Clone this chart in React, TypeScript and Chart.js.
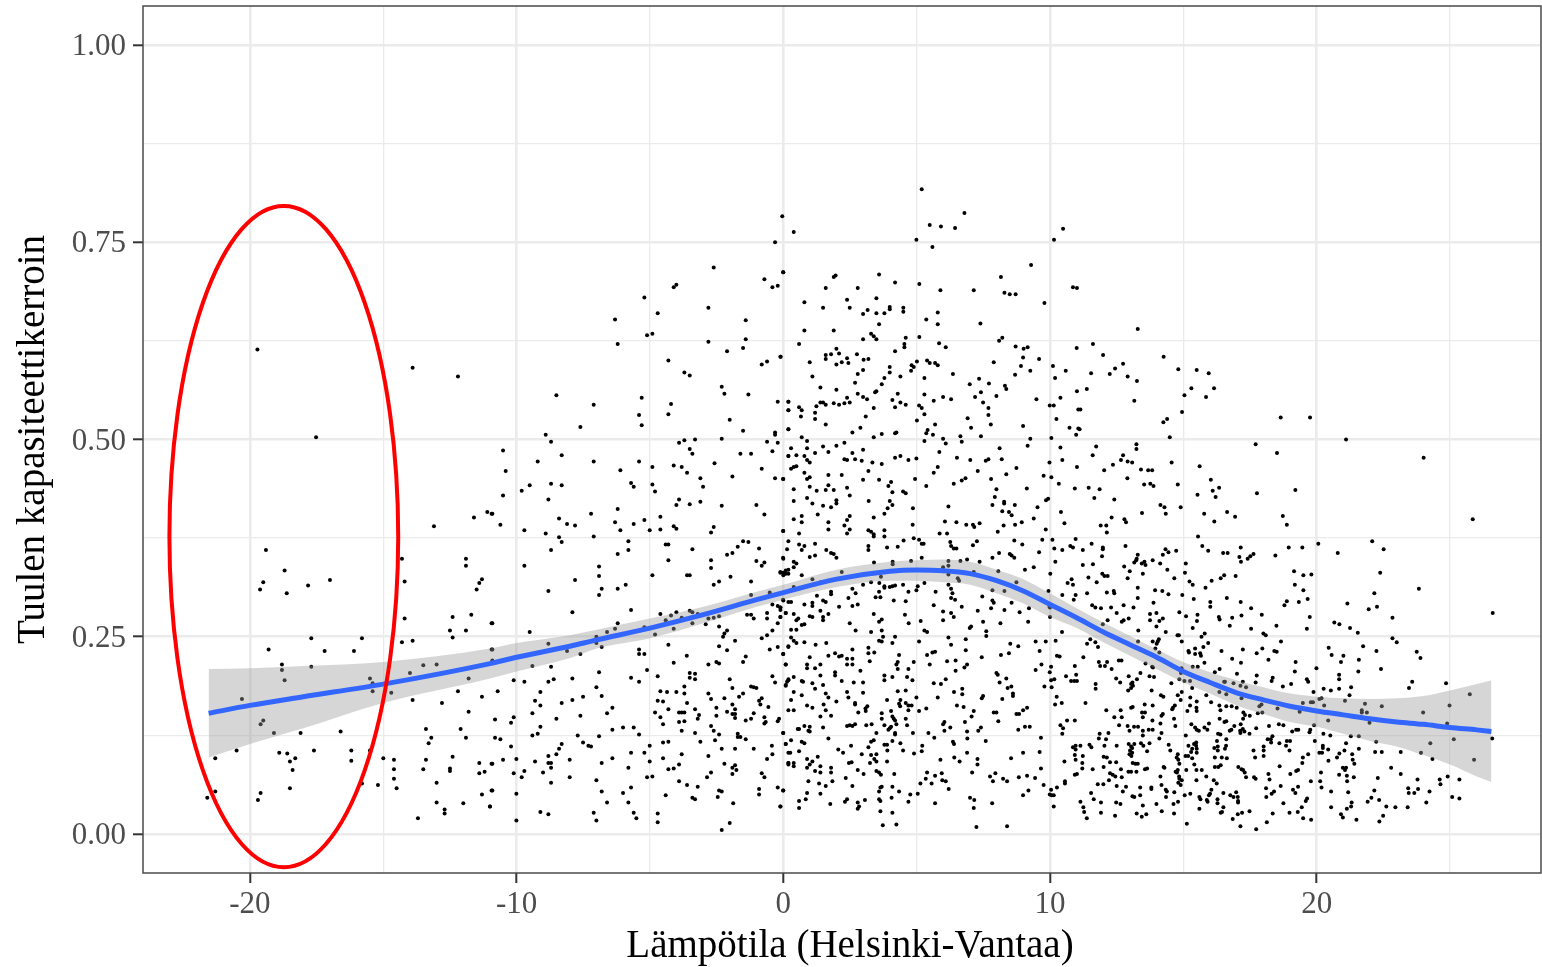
import React, { useEffect, useRef } from "react";
import { Chart, registerables } from "chart.js";

Chart.register(...registerables);

// Scatter values, as temperature, capacity factor pairs.
const coldDays: number[] = [
-19.72,.614,-13.9,.591,-12.2,.58,-17.52,.503,-19.4,.36,-18.7,.334,-19.5,.319,-19.62,.31,-18.62,.305,-17.82,.315,-17,.322,-14.3,.349,-14.2,.32,-11.9,.349,-11.9,.34,-11.3,.323,-11.4,.318,-11.5,.31,-13.1,.39,-11.6,.401,-11.1,.408,-10.94,.406,-14.2,.273,-12.4,.275,-11.7,.278,-10.94,.267,-12.5,.258,-11.9,.258,-12.4,.249,-14.3,.243,-13.9,.245,-15.8,.248,-17.7,.248,-19.3,.234,-17.2,.232,-16.1,.232,-10.94,.234,-18.8,.215,-18.8,.208,-17.7,.212,-18.7,.195,-13.5,.214,-13,.215,-14,.204,-11.8,.197,-15.5,.197,-15.4,.191,-15.4,.181,-14.7,.179,-20.3,.171,-13.9,.17,-12.2,.181,-11.3,.174,-12.8,.166,-11.8,.155,-19.5,.144,-19.6,.139,-19.1,.128,-18.1,.128,-16.6,.13,-13.4,.133,-12.1,.133,-13.2,.122,-11.9,.122,-13.3,.115,-20.5,.106,-21.3,.096,-18.9,.103,-18.6,.102,-18.3,.096,-18.5,.092,-18.4,.081,-17.6,.106,-16.2,.106,-16.2,.093,-15.5,.106,-15,.096,-14.6,.094,-14.6,.082,-14.6,.07,-14.5,.058,-13.4,.094,-13.5,.082,-12.4,.098,-12.5,.083,-12.5,.08,-11.4,.09,-10.94,.089,-11.4,.077,-11.2,.079,-13,.065,-11.3,.05,-10.94,.055,-21.3,.054,-21.6,.046,-19.6,.052,-19.7,.043,-18.5,.058,-15.8,.064,-15.2,.062,-13,.04,-12.7,.031,-12.7,.026,-12,.039,-11,.035,-13.7,.02,
];

const coolUpper: number[] = [
-.31,.75,-2.61,.718,0,.712,-.71,.703,-.41,.693,-.21,.695,-4.01,.696,-4.11,.693,-5.21,.68,-2.81,.667,-4.71,.66,-6.31,.652,-1.41,.651,-4.91,.634,-5.11,.632,-6.21,.621,-2.81,.624,-1.41,.627,-1.51,.616,-2.11,.612,-4.31,.6,-.11,.605,-.61,.599,-.81,.595,-3.71,.585,-3.51,.581,-2.31,.567,-2.21,.558,-1.31,.557,-8.51,.556,-5.31,.553,-7.11,.544,-4.21,.545,-.21,.548,.19,.548,.19,.537,-5.41,.531,-4.31,.532,-2.01,.525,-5.31,.518,-7.61,.516,.19,.513,-1.51,.511,-.31,.509,-.31,.506,-8.91,.506,-8.71,.497,-2.31,.501,-3.31,.5,-3.71,.499,-3.91,.496,-.61,.497,-.21,.496,-3.51,.488,-3.41,.482,-10.51,.486,-8.31,.48,-1.61,.482,-1.21,.482,-.41,.485,.19,.479,-9.21,.472,-7.11,.472,-5.41,.472,-4.11,.467,-3.81,.465,-4.91,.465,-2.58,.47,-.81,.463,-6.11,.461,-10.41,.46,-3.61,.458,-1.91,.453,-3.11,.451,-.31,.451,0,.45,-5.71,.445,-5.61,.44,-4.91,.443,-3.01,.44,-8.71,.444,-8.31,.442,-9.51,.442,-9.81,.435,-4.81,.434,-10.51,.429,-8.81,.424,-3.91,.424,-4.01,.417,-3.51,.418,-3.11,.421,-2.31,.416,-1.01,.417,-6.21,.412,-7.21,.406,-.71,.405,-10.91,.406,-8.41,.4,-4.61,.402,-5.21,.398,-6.31,.395,-8.11,.393,-7.81,.391,-5.61,.393,-10.61,.392,-4.11,.39,-4.01,.387,-2.61,.389,-9.71,.385,-6.11,.385,-5.01,.385,-4.61,.386,-2.71,.382,0,.384,-8.91,.381,-7.11,.377,-8.41,.376,
];

const coolLower: number[] = [
-8.31,.37,-5.81,.371,-1.51,.371,-1.31,.37,-1.71,.364,-4.41,.367,-4.31,.367,-5.81,.36,-8.71,.36,-6.21,.355,-3.41,.361,-2.11,.354,-1.91,.356,-.91,.362,.14,.361,0,.349,-4.31,.347,-2.71,.347,-1.01,.346,-.71,.344,-.81,.34,-9.71,.34,-6.91,.339,-2.71,.337,-.11,.332,.09,.334,0,.328,.19,.33,-6.91,.327,-4.91,.328,-3.61,.328,-3.51,.328,-1.98,.326,-7.81,.322,-2.41,.32,-2.61,.316,-1.21,.32,-5.91,.316,-6.81,.311,-6.21,.311,-8.81,.308,-6.91,.303,-1.21,.303,-.51,.306,0,.296,-.41,.291,-.21,.289,-.11,.287,.09,.28,-5.71,.284,-7.91,.281,-4.61,.279,-4.21,.277,-4.01,.281,-3.51,.283,-3.41,.281,-3.21,.279,-.61,.28,-1.36,.278,-1.21,.278,-2.41,.276,-2.61,.274,-2.81,.273,-3.81,.274,-4.41,.271,-3.41,.267,-2.91,.266,-1.11,.273,-.61,.273,-.11,.275,-.21,.267,-6.21,.267,-10.91,.267,-6.31,.26,-5.21,.262,-2.41,.263,-4.11,.26,-6.61,.256,-9.51,.256,-2.11,.258,-2.21,.254,-2.26,.25,-.41,.258,-.61,.252,-.81,.248,-4.81,.253,-7.01,.25,-7.01,.242,-8.81,.241,-1.81,.245,-4.31,.24,-6.81,.237,-2.41,.238,-.21,.237,.19,.237,-.51,.234,-2.11,.233,-8.11,.232,-5.41,.234,-5.41,.228,-5.21,.228,-10.91,.234,-10.91,.22,-7.61,.228,0,.228,-3.62,.226,-1.41,.225,-4.11,.217,-1.51,.218,-2.81,.215,-2.51,.218,-2.41,.216,.09,.215,-9.41,.213,-8.71,.212,-5.11,.208,-6.91,.205,-3.51,.204,-3.31,.203,-3.51,.198,-3.31,.196,-4.71,.2,-7.91,.197,-5.71,.198,-.41,.2,-10.11,.195,-9.71,.193,-8.81,.193,-8.61,.196,-5.41,.193,-2.01,.196,-.31,.192,.19,.195,.09,.188,-3.71,.187,-7.01,.186,-1.91,.185,-1.21,.187,-1.11,.186,-1.01,.185,-4.61,.181,-10.71,.181,-9.11,.18,-4.36,.18,-4.01,.18,-3.71,.178,-2.81,.178,-1.51,.178,-1.66,.174,-6.81,.175,-7.51,.174,-7.91,.17,-2.21,.172,-2.71,.171,-.81,.172,-.91,.169,-4.71,.169,-4.51,.168,-9.31,.169,-8.31,.166,-3.61,.166,-9.11,.163,-1.91,.164,-.86,.164,-6.41,.16,-4.31,.158,-3.31,.158,-2.51,.16,-1.81,.158,-.56,.161,-9.41,.153,-7.61,.15,-6.61,.153,-4.81,.154,-3.91,.154,-3.81,.154,-3.71,.154,-2.11,.155,-1.91,.152,-1.81,.152,-1.11,.153,-2.51,.15,-10.11,.148,-4.61,.148,-3.16,.151,-3.21,.146,-1.81,.147,-1.21,.146,-.71,.148,-1.41,.144,-.16,.146,-.21,.143,-10.81,.145,-8.51,.146,-10.21,.141,-4.51,.139,-3.91,.142,-3.71,.143,-.66,.142,-.71,.14,-9.11,.136,-2.71,.137,-6.41,.132,-6.01,.135,-5.61,.135,-3.81,.131,-2.61,.131,0,.128,-3.31,.128,-2.41,.126,-9.41,.125,-9.21,.127,-7.71,.125,-5.41,.126,-1.71,.127,-1.61,.123,-1.71,.123,-6.91,.124,-1.41,.12,-10.81,.122,-10.61,.12,-4.51,.116,-4.31,.117,-3.11,.117,-2.56,.119,-8.31,.114,-7.51,.116,-7.31,.112,-7.21,.111,.09,.114,-5.01,.112,-10.21,.111,-8.41,.108,-2.31,.108,-1.81,.108,-1.11,.108,-.43,.112,-5.71,.103,-5.21,.103,-8.51,.101,-3.81,.101,-.41,.101,.19,.103,-8.81,.099,-2.81,.099,-4.51,.096,-6.41,.096,-10.51,.094,-10.01,.095,-8.01,.094,-9.31,.092,-5.01,.092,-.61,.095,-8.81,.09,-8.71,.09,-6.81,.09,-10.91,.089,.19,.09,-2.21,.089,-3.91,.088,-8.71,.084,-5.81,.084,-1.81,.087,-1.91,.084,-4.31,.082,-4.11,.083,-1.76,.081,-9.71,.08,-9.01,.078,-2.71,.078,-10.11,.077,-1.91,.076,-.81,.077,-9.81,.072,-8.01,.072,-5.11,.072,-4.91,.073,-2.86,.072,-.71,.072,-7.01,.068,-8.71,.065,-3.91,.067,-3.61,.062,-3.21,.06,-5.71,.059,-.91,.057,-.21,.059,0,.055,-10.91,.055,-6.81,.054,-2.41,.055,-2.31,.054,-6.01,.052,-10.01,.051,-.91,.05,-4.41,.049,-2.46,.047,-3.41,.046,-3.31,.044,-6.61,.04,-5.81,.04,-1.88,.039,-11,.035,-.11,.035,-9.11,.028,-8.81,.025,-7.11,.027,-5.61,.027,-4.71,.026,-5.51,.02,-7.01,.017,-10.01,.017,-4.71,.015,-2.01,.014,-2.31,.005,
];

const mildUpper: number[] = [
5.19,.817,-.04,.783,.39,.763,5.49,.772,5.91,.77,6.44,.768,6.79,.787,10.49,.767,10.15,.753,4.99,.753,5.59,.744,9.29,.721,-.01,.712,1.96,.708,1.89,.706,3.59,.709,8.16,.706,4.19,.699,5.1,.697,1.59,.692,2.79,.692,5.89,.689,7.14,.689,10.86,.693,11.01,.692,8.29,.686,8.49,.684,8.71,.684,3.49,.679,2.39,.677,.79,.674,9.79,.673,2.49,.667,1.49,.667,3.99,.668,3.99,.665,4.5,.667,4.5,.662,3.16,.664,2.99,.659,3.49,.66,3.79,.66,5.79,.661,5.36,.652,3.59,.646,5.79,.646,7.39,.647,.79,.638,1.89,.638,3.29,.634,3.39,.631,3.49,.627,2.99,.627,4.59,.629,5.1,.63,8.21,.629,8.09,.625,4.54,.621,4.54,.617,5.84,.622,.59,.621,6.09,.617,8.71,.618,9.01,.615,9.16,.617,11,.616,1.99,.615,4.19,.612,-.1,.605,1.79,.608,2.09,.609,1.59,.607,1.59,.602,2.76,.608,2.39,.603,3.01,.601,3.19,.602,8.99,.604,9.59,.602,.99,.598,2.19,.598,2.44,.597,1.99,.595,5.01,.599,5.39,.6,5.49,.597,5.69,.597,5.79,.594,7.89,.598,3.99,.592,4.81,.594,4.89,.592,4.79,.587,2.99,.588,8.91,.593,10.11,.593,10.59,.587,9.26,.587,3.99,.585,2.79,.583,4.39,.58,3.79,.578,1.09,.58,5.29,.578,6.36,.583,8.69,.582,7.34,.577,10.19,.578,2.69,.572,3.69,.57,6.99,.57,7.71,.571,8.31,.568,8.36,.564,1.39,.566,1.99,.563,3.44,.56,3.49,.561,2.79,.558,4.29,.558,5.29,.557,7.41,.56,11.01,.561,2.99,.554,3.14,.551,7.19,.554,7.99,.555,2.39,.553,9.49,.551,10.39,.553,.19,.548,1.39,.547,1.49,.547,1.59,.544,1.89,.546,2.09,.544,2.29,.546,2.49,.547,4.09,.55,4.39,.547,4.59,.544,5.64,.549,5.99,.554,6.29,.551,7.49,.547,4.19,.541,5.09,.543,5.19,.54,.59,.541,.69,.537,.19,.537,1.24,.542,1.19,.534,3.39,.54,7.69,.54,9.99,.543,10.14,.543,11.06,.538,5.29,.532,7.69,.531,.66,.529,1.19,.526,3.09,.529,6.91,.527,10.24,.526,5.01,.524,1.59,.519,5.69,.519,7.78,.519,.19,.513,2.89,.515,8.99,.517,7.04,.515,10.73,.515,5.41,.512,5.36,.508,2.59,.509,11.06,.514,4.24,.509,4.19,.508,3.69,.507,5.61,.506,10.98,.506,3.39,.503,.69,.503,6.64,.504,7.41,.504,5.99,.501,.89,.498,9.26,.501,10.05,.502,5.29,.498,6.69,.497,2.29,.496,6.09,.495,1.99,.492,9.16,.492,1.49,.491,.29,.489,.89,.489,8.11,.489,10.39,.49,2.99,.487,1.69,.484,1.19,.483,2.59,.483,5.85,.484,.19,.479,.49,.48,.79,.479,4.39,.479,4.19,.477,4.99,.476,6.51,.477,.89,.474,2.29,.475,2.39,.474,2.69,.475,2.94,.473,4.69,.474,7.01,.474,7.69,.475,7.59,.473,8.19,.475,10.46,.474,.99,.471,3.34,.471,3.69,.469,9.98,.471,.49,.466,.39,.465,.29,.463,5.79,.465,8.74,.464,11.01,.465,.79,.458,3.19,.46,5.64,.458,7.29,.46,1.69,.455,2.19,.455,8.36,.456,9.76,.454,.99,.452,.89,.45,-.01,.45,2.99,.449,3.59,.449,4.94,.45,6.83,.451,7.79,.45,10.05,.452,6.69,.448,4.04,.446,6.39,.444,10.33,.444,1.69,.442,.99,.44,3.94,.441,5.36,.441,2.39,.439,.39,.437,1.25,.435,1.59,.436,1.89,.436,7.99,.437,9.13,.438,10.93,.438,4.09,.433,4.49,.434,4.59,.432,2.49,.429,.89,.426,7.93,.427,9.93,.425,9.85,.423,.39,.422,1.99,.423,3.2,.422,3.99,.422,1.09,.419,1.99,.419,8.28,.421,8.28,.419,1.49,.416,4.09,.417,7.84,.417,8.68,.417,1.79,.414,3.91,.413,4.86,.413,6.19,.415,9.53,.414,
];

const mildLower: number[] = [
.39,.399,.69,.403,.69,.395,1.29,.405,1.69,.395,1.69,.386,2.49,.403,2.39,.398,2.29,.391,2.49,.386,2.39,.381,3.39,.401,3.79,.406,-.01,.384,.59,.381,3.19,.385,3.29,.383,3.39,.38,3.39,.377,3.79,.385,3.79,.377,4.85,.392,6.06,.396,6.49,.395,6.86,.392,7.11,.392,7.16,.389,7.36,.394,5.86,.381,6.14,.381,8.04,.383,8.26,.391,8.69,.392,8.94,.395,9.39,.4,9.84,.386,10.41,.408,10.54,.394,8.46,.408,8.56,.404,8.21,.409,.19,.371,.59,.367,.79,.365,.69,.36,1.19,.368,4.89,.375,5.09,.373,5.19,.368,5.26,.368,4.51,.372,3.19,.365,3.19,.36,3.89,.363,4.29,.364,6.26,.37,6.29,.365,6.39,.362,6.49,.362,7.11,.366,7.26,.371,8.66,.372,8.96,.367,9.71,.373,10.09,.373,10.96,.374,10.16,.362,10.46,.36,10.76,.365,10.86,.363,-.01,.35,1.61,.36,1.79,.356,1.89,.355,1.99,.35,.99,.351,1.19,.353,9.59,.357,8.09,.356,7.84,.35,8.49,.355,8.56,.353,8.66,.35,7.36,.345,.39,.345,.49,.343,3.4,.344,4.1,.345,4.1,.342,4.79,.346,5.19,.35,6.19,.346,6.19,.34,6.64,.346,6.89,.348,10.2,.345,.39,.338,.19,.335,-.01,.331,-.11,.331,.09,.33,.69,.328,2.19,.332,5.99,.338,5.99,.333,6.19,.329,7.14,.332,8.06,.333,9.06,.335,9.39,.338,10.01,.33,1.09,.323,6.54,.324,6.59,.321,3.66,.326,1.41,.319,3.29,.319,3.6,.318,5.29,.318,6.19,.316,8.74,.319,10.66,.318,10.81,.323,10.86,.316,.39,.313,2.59,.311,2.99,.316,3.79,.314,3.79,.312,3.99,.313,4.09,.314,4.19,.315,4.49,.316,5.04,.314,6.29,.311,1.79,.307,1.79,.304,2.71,.305,3.59,.307,4.69,.307,4.99,.309,5.71,.307,6.34,.305,7.84,.309,8.29,.308,9.94,.308,10.46,.303,10.96,.303,-.01,.297,.19,.294,.29,.294,1.26,.302,1.49,.296,1.59,.294,2.44,.299,3.46,.3,3.64,.3,4.14,.296,4.59,.295,6.29,.299,6.44,.297,7.46,.301,7.84,.296,7.89,.293,10.89,.297,8.56,.293,9.98,.288,10,.287,.79,.291,1.09,.293,1.09,.289,2.59,.289,2.79,.291,2.09,.288,5.64,.29,6.69,.288,7.79,.286,-.11,.287,-.11,.284,1.39,.283,5.99,.282,7.29,.283,8.29,.284,9.21,.286,.09,.28,.39,.279,-.11,.275,1.69,.279,3.39,.279,4.56,.278,6.29,.28,8.86,.281,.99,.276,1.09,.275,1.49,.275,1.49,.271,.56,.273,.49,.271,3.69,.272,3.59,.269,6.39,.275,5.99,.271,5.15,.27,4.7,.267,10,.275,7.49,.269,9.18,.269,.79,.266,.69,.265,2.49,.267,8.14,.267,7.04,.263,6.99,.261,.29,.259,.49,.259,2.71,.258,3.29,.256,3.69,.258,5.29,.258,5.39,.256,7.61,.257,7.61,.251,10.45,.256,3.74,.25,4.19,.25,.29,.249,.39,.245,.49,.242,6.19,.249,6.84,.247,3.59,.245,3.69,.244,4.09,.242,5.09,.244,.79,.243,1.21,.24,1.61,.242,6.29,.24,9.46,.244,9.84,.244,10.21,.245,.19,.238,2.59,.234,3.19,.236,6.84,.233,8.51,.241,8.81,.238,9.61,.232,-.01,.228,3.19,.229,3.41,.23,1.94,.229,1.69,.226,2.09,.225,2.19,.226,.99,.224,2.39,.222,2.59,.222,4.34,.227,5.39,.227,5.59,.23,5.69,.231,7.44,.224,8.16,.227,8.46,.229,10.26,.226,10.36,.225,6.14,.219,6.46,.22,3.24,.219,.89,.215,1.39,.215,2.39,.215,2.59,.215,.09,.215,4.29,.218,4.24,.215,4.89,.218,5.49,.215,6.89,.215,6.79,.211,9.68,.215,10.04,.212,10.93,.213,.89,.21,1.19,.21,4.29,.209,4.69,.209,2.89,.207,6.46,.207,9.46,.208,1.39,.201,1.94,.205,1.94,.201,3.79,.201,4.09,.199,4.64,.199,7.99,.204,8.04,.202,9.99,.205,.39,.199,10.04,.195,10.6,.2,10.98,.202,8.36,.197,.19,.196,.14,.193,.09,.189,.69,.194,.74,.193,2.19,.194,2.64,.192,2.99,.192,3.79,.195,4.84,.195,6.09,.196,5.64,.191,5.91,.19,8.11,.192,10.16,.196,10.79,.194,10.91,.194,11.01,.194,1.09,.191,1.49,.189,1.19,.184,8.41,.185,8.55,.187,9.79,.187,10.06,.186,6.71,.184,6.4,.18,6.71,.177,4.29,.181,4.59,.182,2.99,.179,2.39,.18,.39,.18,1.59,.178,.69,.176,8.61,.178,8.61,.175,1.69,.173,2.44,.173,4.99,.173,5.79,.173,7.49,.175,7.44,.172,10.25,.174,.29,.17,1.99,.168,3.89,.17,4.39,.17,8.21,.171,4.34,.165,4.59,.166,2.69,.166,2.69,.164,1.51,.164,.89,.163,4.38,.162,4.69,.163,4.81,.163,10.19,.164,10.44,.166,6.51,.163,3.15,.162,3.08,.159,6.76,.161,1.09,.16,5.36,.159,9.14,.16,8.99,.157,.19,.157,.39,.157,1.59,.157,4.04,.156,4.69,.157,5.09,.156,7.14,.156,2.81,.154,3.09,.156,7.89,.154,7.99,.154,8.74,.152,8.84,.152,3.69,.153,1.39,.149,1.79,.15,4.09,.149,4.14,.146,4.19,.144,7.06,.149,3.69,.146,4.59,.146,6.81,.142,8.06,.143,10.64,.144,10.93,.144,6.04,.142,5.99,.139,2.49,.138,2.39,.137,2.59,.137,2.69,.139,3.11,.138,3.31,.139,3.79,.138,4.24,.139,4.64,.138,.79,.137,.99,.136,1.49,.135,-.01,.128,.54,.133,.59,.133,.94,.131,.99,.13,4.04,.136,3.99,.134,3.94,.132,6.04,.131,6.26,.135,7.41,.135,7.31,.131,8.81,.132,9.06,.136,9.24,.136,10.39,.138,10.49,.134,6.89,.13,3.49,.128,4.19,.128,4.86,.128,5.44,.128,4.19,.126,10.46,.127,5.66,.122,1.69,.121,6.9,.121,9.66,.122,.29,.119,.69,.117,.79,.115,3.39,.119,3.29,.117,4.09,.118,.09,.114,6.36,.117,6.4,.114,7.59,.118,4.39,.115,5.21,.112,2.54,.112,3.19,.11,3.79,.113,3.89,.113,10.96,.112,10.86,.11,2.06,.107,3.9,.106,.59,.105,.26,.103,2.24,.103,4.49,.106,5.19,.105,6.89,.103,8.99,.103,9.61,.104,10.96,.107,4.9,.102,2.94,.101,3.29,.1,3.49,.101,3.41,.095,1.29,.098,10.93,.1,.89,.095,1.09,.092,3.49,.092,5.89,.094,6.41,.097,6.61,.092,7.28,.095,8.54,.096,10.54,.092,.19,.09,.19,.088,.39,.09,.39,.086,.99,.088,2.46,.09,2.56,.091,3.25,.09,3.89,.092,7.28,.088,10.96,.094,1.39,.086,1.79,.084,.89,.084,1.19,.08,1.39,.078,1.79,.078,2.79,.081,3.01,.076,3.49,.08,3.59,.078,3.66,.075,4.16,.076,5.39,.078,5.94,.077,9.66,.083,7.08,.078,5.34,.07,5.69,.074,2.34,.071,7.75,.073,7.95,.077,8.83,.072,9.14,.074,9.44,.071,10.93,.075,11.01,.076,7.86,.067,8.24,.07,8.39,.067,.94,.067,5.96,.068,6.09,.067,5.14,.064,5.56,.064,10.56,.067,10.56,.064,1.34,.064,1.59,.061,1.84,.067,2.59,.061,4.09,.06,3.64,.059,3.69,.06,9.76,.062,6.2,.057,10.26,.059,10.04,.056,3.59,.054,-.01,.055,.89,.052,1.39,.051,4.34,.054,4.76,.05,5.04,.051,4.06,.046,3.59,.044,9.19,.055,8.99,.049,9.99,.05,10.06,.049,10.14,.049,7,.046,7.16,.043,.59,.042,.84,.044,2.39,.044,2.31,.041,3.06,.043,3.64,.042,4.69,.041,5.69,.039,7.83,.039,1.76,.038,2.79,.04,2.84,.035,2.79,.032,.59,.033,-.11,.035,7.14,.033,10.14,.035,3.64,.029,4.09,.027,3.73,.011,4.24,.012,7.24,.009,8.39,.01,
];

const warmUpper: number[] = [
13.29,.64,11.61,.621,11.99,.607,14.26,.605,12.74,.596,12.44,.59,14.81,.589,15.5,.588,15.95,.584,11.54,.584,12.24,.583,12.91,.58,13.26,.574,11.38,.564,15.3,.565,16.15,.565,15.04,.556,15.85,.554,13.16,.549,11.14,.538,14.95,.535,18.65,.528,19.75,.528,14.39,.526,14.25,.522,11.11,.513,14.49,.503,21.1,.5,13.24,.494,11.73,.491,13.24,.488,17.71,.494,11.6,.48,12.74,.48,18.51,.483,24.01,.477,12.66,.474,12.91,.472,13.08,.471,14.56,.471,12.36,.468,15.61,.466,12.03,.461,13.41,.462,13.68,.461,13.83,.461,12.9,.451,16.03,.449,13.53,.443,13.76,.444,13.88,.441,14.79,.443,16.34,.439,11.45,.439,11.86,.437,16.1,.435,19.2,.436,15.53,.43,17.76,.432,16.21,.427,11.66,.426,12.41,.424,14.14,.417,14.29,.414,14.9,.414,13.45,.407,14.34,.406,15.78,.406,16.64,.408,16.94,.402,18.73,.403,25.85,.399,12.31,.401,12.79,.399,12.85,.395,16.16,.396,11.9,.391,12.11,.391,18.88,.392,12.13,.382,15.55,.377,11.56,.368,22.08,.371,20.06,.368,11.23,.36,11.98,.363,11.98,.361,12.83,.365,14.33,.361,14.44,.357,14.73,.359,15.71,.365,15.93,.359,17.15,.363,18.95,.363,19.46,.363,22.51,.361,20.79,.356,16.49,.356,16.66,.356,14.23,.354,13.29,.354,17.63,.355,18.45,.353,11.95,.352,17.1,.351,17.51,.352,17.41,.349,13.25,.349,13.85,.347,13.54,.345,13.23,.347,13.16,.344,13.44,.343,13.58,.341,11.23,.341,11.61,.342,12.78,.339,14.13,.343,15.09,.343,17.16,.345,14.4,.335,12.99,.333,15.06,.331,19.15,.333,22.38,.331,13.48,.33,11.96,.33,16.53,.328,16.96,.327,19.5,.328,19.8,.329,12.04,.327,12.16,.327,11.44,.325,12.91,.324,14.66,.324,16.4,.324,
];

const warmLower: number[] = [
11.75,.319,15.23,.32,15.35,.316,16.06,.321,15.83,.312,13.29,.312,19.18,.316,19.5,.309,23.83,.311,11.39,.305,12.13,.306,12.39,.308,12.41,.305,13.94,.309,14.21,.308,14.44,.304,14.96,.303,22.16,.305,13.29,.299,15.39,.298,16.63,.299,19.66,.298,18.88,.295,19.33,.294,17.15,.294,16.01,.294,16.01,.288,18.79,.29,13.88,.293,12.76,.29,11.58,.29,11.7,.287,11.91,.286,12.29,.287,13.13,.287,17.54,.286,21.15,.292,22.26,.288,21.95,.285,14.85,.281,12.5,.28,13.75,.279,13.99,.28,15.53,.278,17.18,.277,17.94,.278,19.74,.275,22.84,.274,26.6,.28,15.1,.276,16.33,.275,16.36,.272,16.83,.274,12.95,.273,12.76,.271,12.69,.269,12.16,.271,13.75,.271,14.1,.27,14.23,.273,15.51,.27,11.98,.266,13.99,.263,16.74,.264,18.49,.264,20.66,.268,20.85,.266,15.35,.261,17.54,.26,19.63,.26,21.25,.261,13.31,.258,14.34,.256,15.8,.254,15.68,.25,14.78,.252,14.83,.252,18,.254,18.09,.252,21.54,.255,22.84,.248,11.51,.247,14.08,.247,14.04,.244,14,.241,13.3,.244,13.85,.244,11.7,.243,11.39,.241,14.94,.244,18.66,.244,23,.243,15.93,.242,11.8,.237,15.75,.237,21.74,.238,20.45,.236,13.38,.234,13.95,.235,14.1,.23,15.19,.232,15.21,.23,15.44,.235,15.44,.228,15.63,.229,15.66,.226,16.43,.232,17.23,.234,17.96,.235,17.75,.229,18.41,.232,18.5,.231,22.24,.232,20.56,.227,21,.226,23.75,.231,23.89,.223,11.25,.224,12.58,.22,12.68,.22,16.83,.222,18.19,.221,21.58,.221,15.79,.217,17.16,.217,19.21,.218,20.91,.218,11.83,.218,12.14,.218,13.58,.216,11.88,.213,12.06,.213,12.31,.209,13.83,.212,13.86,.211,15.35,.212,15.54,.212,14.93,.21,19.99,.21,22.41,.209,21.56,.206,16.36,.209,16.18,.205,19.18,.206,14.91,.204,17.01,.203,17.75,.201,20.84,.202,13.39,.204,12.95,.2,13.73,.2,13.9,.199,12.48,.197,13.26,.196,14.85,.196,15.04,.194,15.25,.194,18.35,.198,18.31,.194,19.63,.196,20.84,.196,12.63,.192,13.09,.192,17.71,.192,14.55,.191,16.53,.193,16.56,.193,16.88,.191,17.23,.193,19.68,.193,24.85,.191,23.58,.193,19.04,.19,17.14,.188,17.35,.186,11.71,.19,11.71,.184,13.04,.19,13.11,.188,13.04,.185,12.93,.182,15.33,.185,18.73,.187,20.84,.184,21.29,.186,23.46,.185,20.26,.184,13.81,.182,20.53,.182,19.88,.18,25.74,.177,16.35,.18,16.61,.177,21.23,.176,14.79,.176,14.94,.18,15.86,.176,14.16,.176,14.25,.174,17.18,.172,14.9,.17,15.26,.173,15.5,.168,20.1,.171,20.18,.172,19.78,.167,19.86,.167,19.48,.166,11.33,.166,16.04,.167,21.06,.169,21.81,.165,17.93,.164,17.85,.162,13.85,.163,13.55,.164,20.28,.163,22.44,.162,24.98,.163,13.1,.161,13.04,.16,15.49,.16,15.25,.163,16.35,.163,16.61,.162,16.81,.162,17,.16,14.68,.163,14.61,.16,14.58,.158,18.53,.159,15.15,.156,15.5,.156,12.11,.157,12.65,.157,16.39,.157,21.69,.157,21.69,.154,21.88,.154,19.36,.155,23.99,.154,13.45,.154,13.56,.154,14.23,.152,14.18,.15,17.25,.154,17.31,.151,17.79,.153,17.96,.154,17.49,.15,12.41,.148,12.69,.148,13.48,.148,14.65,.146,17.24,.146,16.36,.146,20.43,.144,21.98,.141,13.84,.144,14.14,.14,16.61,.143,16.54,.142,15.3,.139,12.59,.138,12.91,.137,13.15,.136,13.3,.136,14.7,.137,15.44,.135,15.79,.135,15.96,.14,16.91,.137,17.15,.139,18.58,.139,18.75,.138,19.9,.138,24.89,.14,15.5,.132,15.58,.131,15.9,.132,17.73,.134,18.21,.137,12.98,.131,13.7,.132,13.85,.132,13.48,.131,16.8,.132,16.74,.131,17.13,.131,17.23,.133,17.29,.13,17.14,.128,19.76,.132,19.73,.129,19.08,.13,19.23,.132,19.31,.132,14.18,.128,11.86,.127,12.19,.128,13.48,.125,16.3,.127,16.39,.126,17.48,.127,20.25,.127,20.51,.125,15.09,.125,21.58,.124,21.28,.124,16.61,.12,14.1,.121,11.83,.121,12.1,.12,16.26,.118,18.34,.124,18.28,.12,18.16,.12,18.29,.116,19.93,.118,22.23,.117,21.1,.115,25.14,.12,26.58,.121,24.26,.115,11.14,.112,11.48,.113,11.55,.11,12.5,.112,13.16,.114,12.95,.114,13.04,.111,13.41,.115,13.5,.112,13.73,.115,14.45,.113,15.48,.116,15.4,.114,15.48,.112,15.19,.112,16.6,.112,16.29,.111,16.16,.109,18.01,.111,18.88,.118,19,.118,18.85,.112,18.6,.115,20.23,.112,20.23,.109,13.08,.109,13,.106,13.08,.103,12.04,.112,15.33,.108,15.5,.108,14.51,.106,13.64,.105,16.56,.108,16.29,.106,18.01,.106,18.98,.106,17.63,.106,20.43,.107,20.1,.103,20.2,.103,20.85,.102,21.04,.106,21.33,.101,21.58,.108,22.19,.104,22.44,.104,23.15,.104,23.91,.103,15.5,.103,15.29,.104,14.79,.101,15.08,.099,15.18,.099,16.18,.097,16.44,.097,16.63,.096,18.01,.099,17.69,.097,19.68,.101,19.48,.097,20.76,.097,11.23,.099,12.01,.098,12.13,.097,12.98,.101,13.05,.099,14.75,.097,24.34,.095,25.9,.094,21.35,.094,15.33,.096,14.81,.094,20.44,.093,12.25,.091,12.48,.091,13.1,.09,13.2,.089,13.29,.089,11.21,.09,15.41,.088,14.85,.089,16.4,.087,16.18,.085,16.31,.085,19.46,.09,21.41,.089,18.61,.086,17.06,.085,14.26,.085,14.29,.084,11.21,.083,12.01,.085,11.6,.082,12.66,.082,13.56,.082,13.64,.083,12.94,.079,13.04,.079,13.24,.079,12.25,.077,14.79,.081,14.71,.079,14.76,.078,15.11,.081,15.49,.081,15.69,.081,17.18,.082,17.24,.081,17.3,.078,19.3,.081,19.23,.08,19.01,.076,20.98,.084,21.1,.084,21.06,.081,22.79,.084,12.35,.075,12.45,.073,12.69,.072,14.14,.073,14.84,.073,14.85,.07,14.94,.068,15.86,.073,18.19,.076,17.35,.072,17.65,.072,17.71,.07,20.16,.078,20.84,.075,21.13,.074,21.39,.072,23.15,.076,24.91,.073,12.21,.068,14.81,.065,15.49,.068,16.14,.068,16.25,.064,18.23,.069,19.78,.067,20.13,.067,21.14,.067,22.29,.071,23.78,.069,24.61,.069,25.35,.069,11.79,.063,12,.063,12.5,.061,12.85,.06,14.9,.062,14.18,.062,18.65,.061,24.64,.063,20.18,.059,13.38,.059,13.8,.059,13.8,.057,14.66,.053,14.34,.056,14.38,.054,12.73,.054,16.05,.056,16.5,.052,16.98,.053,18.4,.054,18.31,.051,18.1,.058,19.11,.056,19.3,.06,19.2,.052,20.54,.054,21.18,.053,22.16,.055,23.43,.058,23.8,.057,23.45,.052,23.66,.052,24.23,.054,11.54,.052,13.38,.049,13.09,.048,13.16,.047,15.26,.051,15.05,.049,15.6,.047,16,.051,15.96,.049,16.76,.049,16.88,.047,17.04,.047,18.11,.047,14.35,.047,19.64,.045,19.59,.042,21.31,.04,21.91,.041,22.05,.046,22.34,.043,25.08,.047,25.35,.045,15.64,.044,15.88,.043,15.91,.041,16.28,.044,16.28,.039,17.05,.042,17.05,.04,11.64,.044,11.14,.041,11.91,.04,12.48,.04,12.64,.038,14.8,.041,14.63,.038,13.99,.038,18.75,.039,24.11,.04,19.44,.034,19.29,.028,13.48,.036,11.25,.034,14.19,.029,14.65,.026,15.6,.032,16.5,.034,16.45,.028,16.4,.027,11.28,.028,11.91,.027,13.25,.026,12.44,.023,13.44,.022,13.61,.025,11.38,.02,17.2,.027,17.04,.025,17.48,.029,16.85,.019,18.35,.026,18.98,.027,20.54,.034,21.13,.032,21.29,.035,20.91,.025,20.98,.021,22.49,.023,22.35,.016,22.61,.035,22.95,.034,23.41,.034,18.13,.015,19.49,.02,19.79,.018,21.49,.018,17.14,.01,15.13,.013,17.73,.006,
];

// Smoother and its confidence band.
const bandTemps = [-21.55,-20,-18,-15,-11,-10,-8,-7,-5,-3,-1,0,2,4,5,6,7,8,9,10,11,12,13,14,15,16,17,18,19,20,21,22,23,24,25,26,26.55];
const smoothValues = [.153,.163,.174,.19,.216,.224,.238,.246,.261,.278,.297,.306,.323,.333,.3346,.3337,.33,.321,.308,.291,.274,.256,.24,.224,.206,.192,.179,.17,.162,.156,.151,.146,.142,.139,.135,.132,.13];
const bandUpper = [.209,.21,.213,.218,.235,.242,.252,.259,.273,.288,.307,.316,.335,.345,.347,.348,.345,.335,.323,.305,.286,.268,.251,.234,.218,.205,.195,.186,.178,.174,.172,.171,.172,.175,.182,.19,.195];
const bandLower = [.097,.114,.134,.166,.197,.206,.223,.235,.248,.267,.288,.297,.313,.321,.321,.319,.316,.305,.292,.275,.261,.243,.226,.209,.192,.178,.163,.152,.142,.136,.127,.118,.111,.1,.088,.073,.066];

// Axes.
const xTicks = [-20,-15,-10,-5,0,5,10,15,20,25];
const xMajorTicks = [-20,-10,0,10,20];
const yTicks = [0,.125,.25,.375,.5,.625,.75,.875,1];
const yMajorTicks = [0,.25,.5,.75,1];
const xTitle = "Lämpötila (Helsinki-Vantaa)";
const yTitle = "Tuulen kapasiteettikerroin";

// The hand-drawn ellipse, in data units.
const ellipseCentre = { x: -18.73, y: .377 };
const ellipseRadii = { x: 4.29, y: .419 };

const pairs = (flat: number[]) => {
  const out: { x: number; y: number }[] = [];
  for (let i = 0; i + 1 < flat.length; i += 2) out.push({ x: flat[i], y: flat[i + 1] });
  return out;
};

const overlay = {
  id: "overlay",
  afterDraw(chart: any) {
    const { ctx, chartArea, scales } = chart;
    const cx = scales.x.getPixelForValue(ellipseCentre.x);
    const cy = scales.y.getPixelForValue(ellipseCentre.y);
    const rx = Math.abs(scales.x.getPixelForValue(ellipseCentre.x + ellipseRadii.x) - cx);
    const ry = Math.abs(scales.y.getPixelForValue(ellipseCentre.y + ellipseRadii.y) - cy);
    ctx.save();
    ctx.strokeStyle = "#ff0000";
    ctx.lineWidth = 4;
    ctx.beginPath();
    ctx.ellipse(cx, cy, rx, ry, 0, 0, Math.PI * 2);
    ctx.stroke();
    ctx.strokeStyle = "#4a4a4a";
    ctx.lineWidth = 1.5;
    ctx.strokeRect(chartArea.left, chartArea.top, chartArea.right - chartArea.left, chartArea.bottom - chartArea.top);
    ctx.restore();
  },
};

const SERIF = "'Liberation Serif', serif";

export default function App() {
  const ref = useRef<HTMLCanvasElement>(null);
  useEffect(() => {
    const points = [coldDays, coolUpper, coolLower, mildUpper, mildLower, warmUpper, warmLower].flatMap(pairs);
    const line = (vals: number[]) => bandTemps.map((x, i) => ({ x, y: vals[i] }));
    const chart = new Chart(ref.current!, {
      type: "scatter",
      data: {
        datasets: [
          { data: points, order: 4, pointRadius: 2, pointBackgroundColor: "#000", pointBorderWidth: 0, showLine: false },
          { data: line(bandUpper), order: 3, showLine: true, pointRadius: 0, borderWidth: 0, borderColor: "transparent", cubicInterpolationMode: "monotone", fill: "+1", backgroundColor: "rgba(153,153,153,0.4)" },
          { data: line(bandLower), order: 2, showLine: true, pointRadius: 0, borderWidth: 0, borderColor: "transparent", cubicInterpolationMode: "monotone", fill: false },
          { data: line(smoothValues), order: 1, showLine: true, pointRadius: 0, borderWidth: 5, borderColor: "#3366FF", cubicInterpolationMode: "monotone", fill: false },
        ],
      } as any,
      options: {
        animation: false,
        responsive: false,
        devicePixelRatio: 1,
        layout: { padding: { top: 6, right: 0, left: 0, bottom: 0 } },
        plugins: { legend: { display: false }, tooltip: { enabled: false } },
        scales: {
          x: {
            type: "linear",
            min: -24.01,
            max: 28.41,
            afterFit: (s: any) => {
              s.height = 94;
              s.paddingLeft = 0;
              s.paddingRight = 0;
              if (!s.__titleShifted) {
                // the reference's axis title sits right of the panel's centre
                const draw = s.drawTitle;
                s.drawTitle = function () {
                  this.ctx.save();
                  this.ctx.translate(8, 0);
                  draw.call(this);
                  this.ctx.restore();
                };
                s.__titleShifted = true;
              }
            },
            afterBuildTicks: (s: any) => { s.ticks = xTicks.map((value) => ({ value })); },
            border: { display: false },
            grid: {
              color: "#ebebeb",
              lineWidth: (c: any) => (xMajorTicks.includes(c.tick?.value) ? 2.6 : 1.3),
              tickColor: (c: any) => (xMajorTicks.includes(c.tick?.value) ? "#333333" : "rgba(0,0,0,0)"),
              tickLength: 10,
              tickWidth: 2,
            },
            ticks: {
              autoSkip: false,
              maxRotation: 0,
              padding: 3,
              color: "#4d4d4d",
              font: { family: SERIF, size: 31 },
              callback: (v: any) => (xMajorTicks.includes(v) ? String(v) : ""),
            },
            title: { display: true, text: xTitle, color: "#000", font: { family: SERIF, size: 39 }, padding: { top: 0, bottom: -3 } },
          },
          y: {
            type: "linear",
            min: -.0494,
            max: 1.0494,
            afterFit: (s: any) => {
              s.width = 143;
              s.paddingTop = 0;
              s.paddingBottom = 0;
            },
            afterBuildTicks: (s: any) => { s.ticks = yTicks.map((value) => ({ value })); },
            border: { display: false },
            grid: {
              color: "#ebebeb",
              lineWidth: (c: any) => (yMajorTicks.includes(c.tick?.value) ? 2.6 : 1.3),
              tickColor: (c: any) => (yMajorTicks.includes(c.tick?.value) ? "#333333" : "rgba(0,0,0,0)"),
              tickLength: 10,
              tickWidth: 2,
            },
            ticks: {
              autoSkip: false,
              padding: 7,
              labelOffset: 2,
              color: "#4d4d4d",
              font: { family: SERIF, size: 31 },
              callback: (v: any) => (yMajorTicks.includes(v) ? Number(v).toFixed(2) : ""),
            },
            title: { display: true, text: yTitle, color: "#000", font: { family: SERIF, size: 39 }, padding: { top: 10, bottom: 0 } },
          },
        },
      },
      plugins: [overlay],
    } as any);
    return () => chart.destroy();
  }, []);
  return (
    <div style={{ position: "fixed", left: 0, top: 0, width: 1542, height: 967, background: "#fff", overflow: "hidden" }}>
      <canvas ref={ref} width={1545} height={967} style={{ display: "block" }} />
    </div>
  );
}
